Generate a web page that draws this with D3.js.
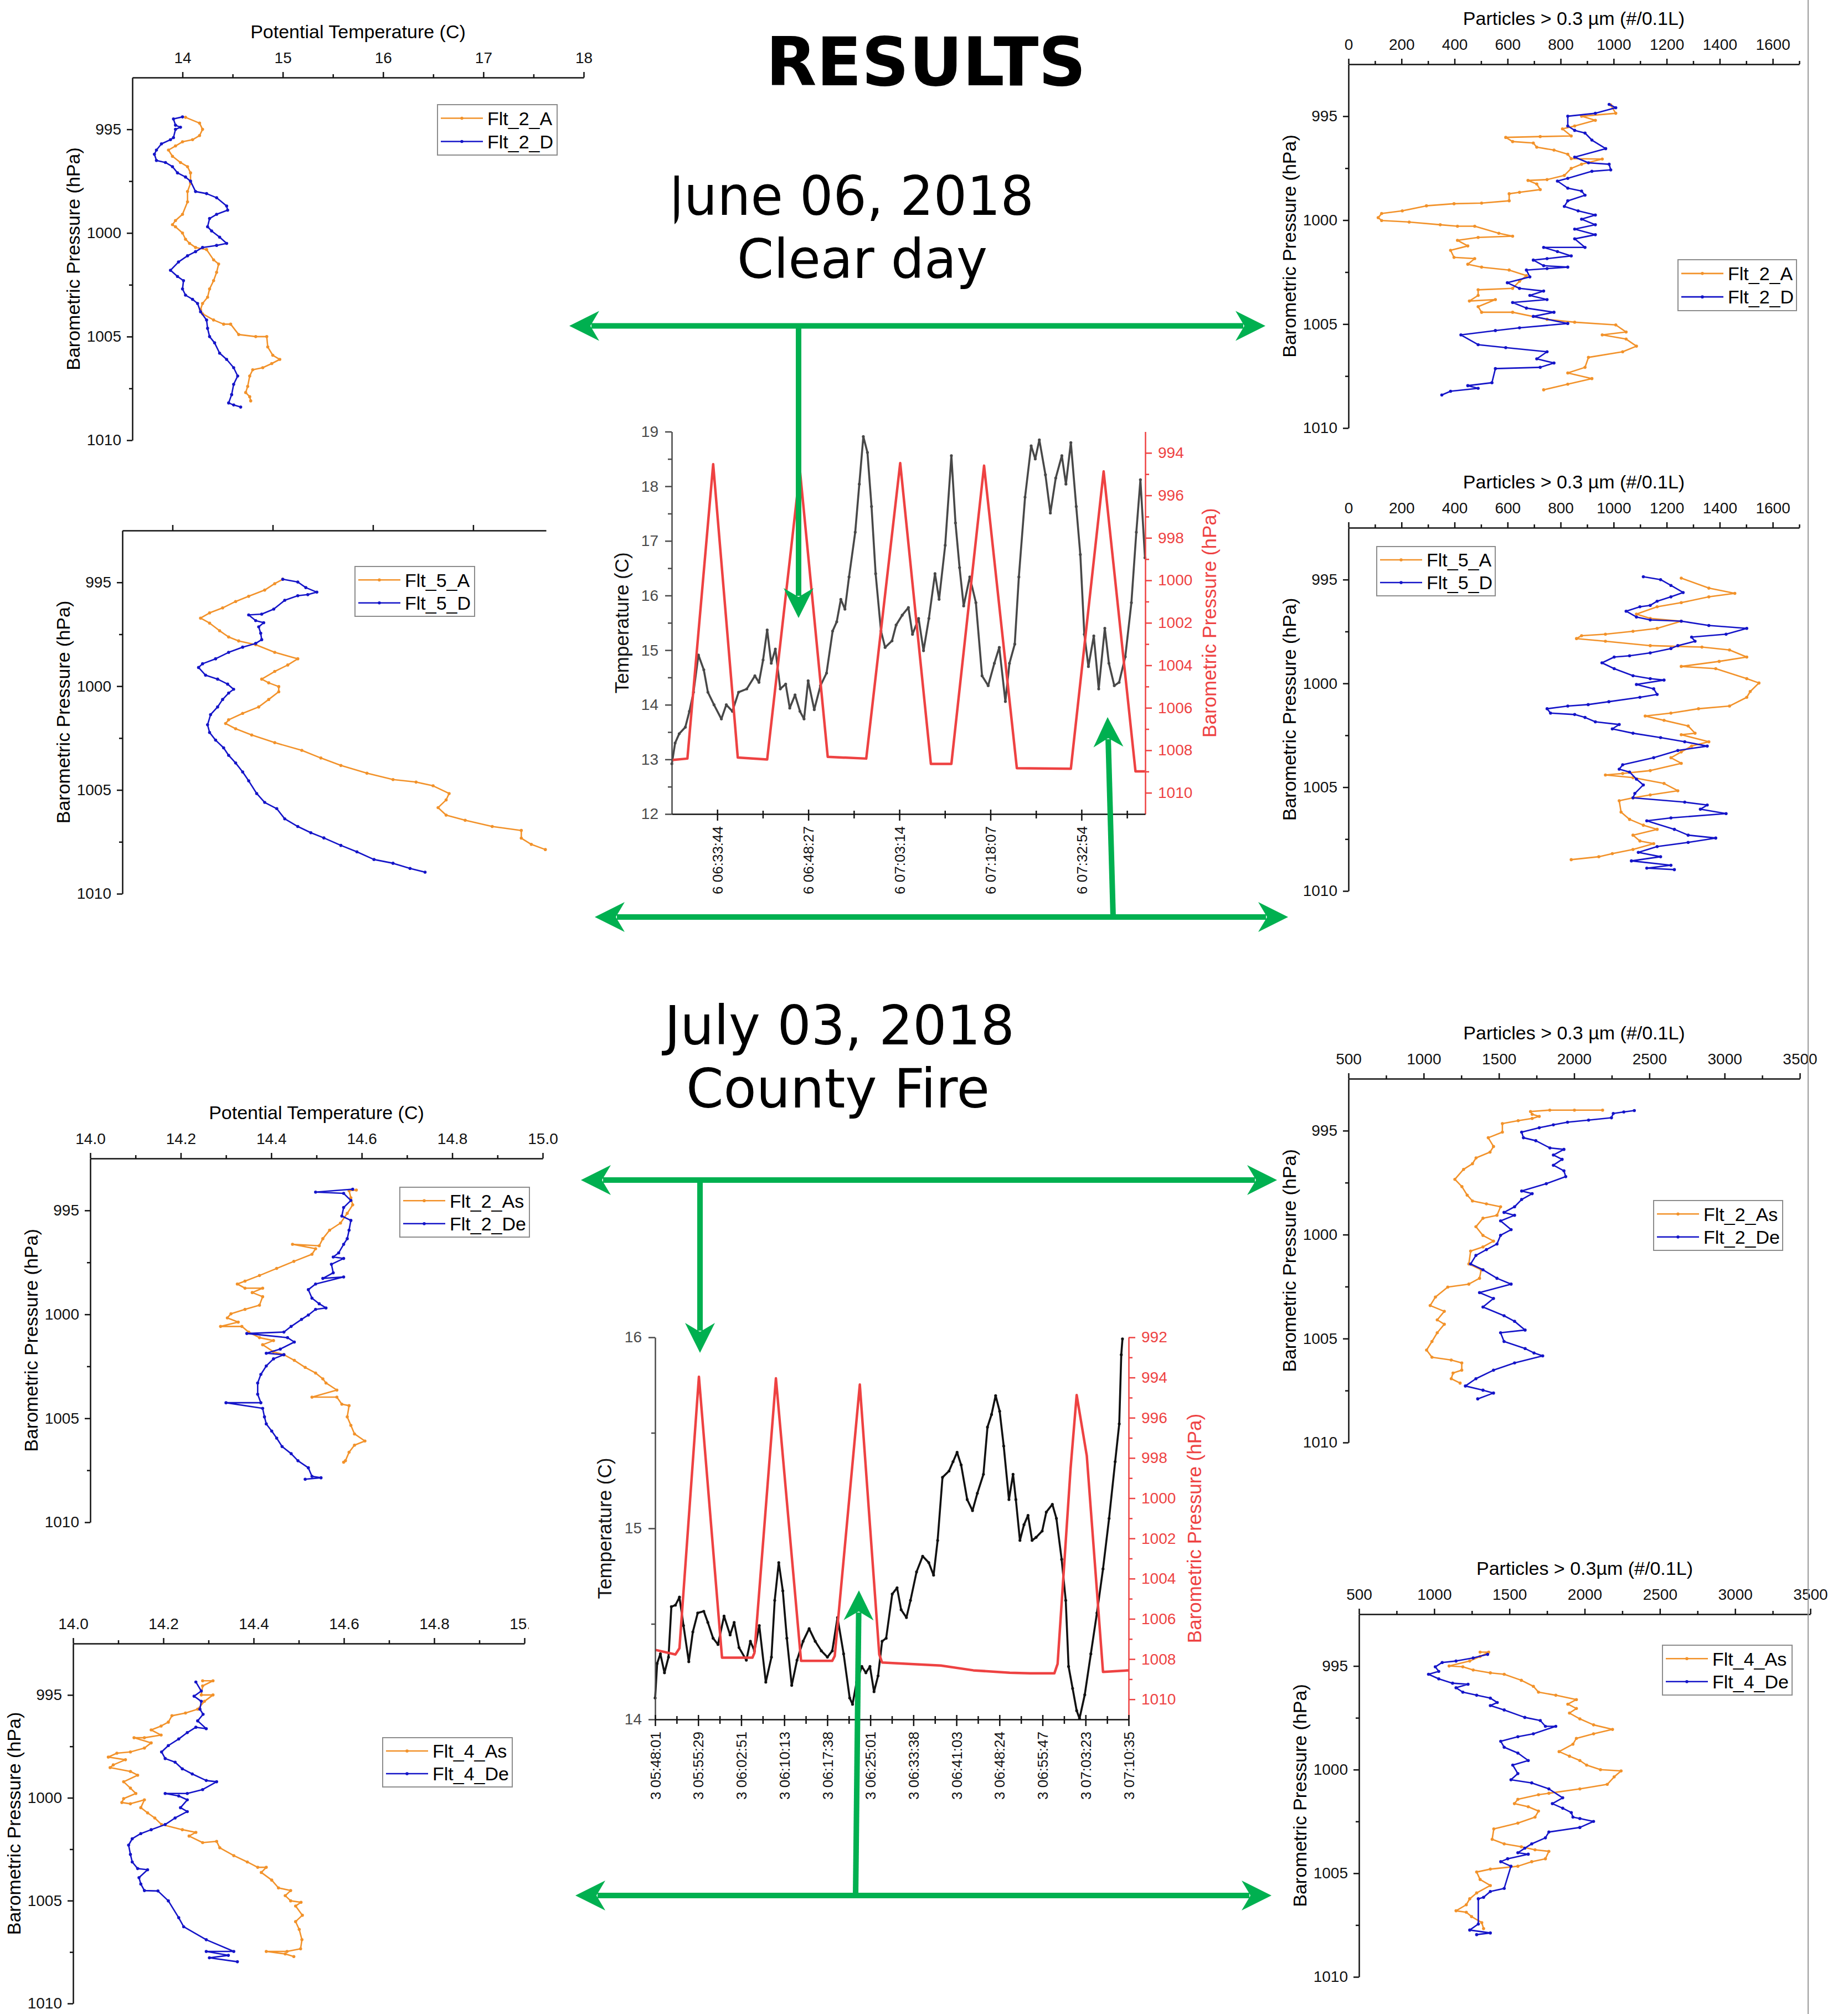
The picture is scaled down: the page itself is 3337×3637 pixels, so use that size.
<!DOCTYPE html>
<html>
<head>
<meta charset="utf-8">
<script src="https://cdn.jsdelivr.net/npm/d3@7"></script>
<style>
  body { margin: 0; background: #fff; }
  text { font-family: "Liberation Sans", Arial, sans-serif; }
  .big { font-family: "DejaVu Sans", sans-serif; }
</style>
</head>
<body>
<svg id="fig" width="3337" height="3637"></svg>
<script>
// ---------- June 06, 2018 (clear day) : profiles [value, pressure hPa] ----------
const flt2A_theta = [[14.03,994.42],[14.17,994.7],[14.2,995.0],[14.17,995.3],[14.1,995.5],[14.0,995.6],[13.93,995.8],[13.86,996.0],[13.9,996.3],[13.98,996.6],[14.05,996.8],[14.08,997.1],[14.08,997.6],[14.05,998.0],[14.05,998.5],[14.0,999.1],[13.93,999.4],[13.9,999.6],[13.93,999.7],[14.0,1000.0],[14.03,1000.3],[14.07,1000.5],[14.13,1000.7],[14.24,1000.8],[14.31,1001.3],[14.36,1001.5],[14.34,1001.9],[14.31,1002.3],[14.27,1002.7],[14.25,1003.1],[14.2,1003.4],[14.18,1003.7],[14.2,1003.9],[14.31,1004.2],[14.41,1004.4],[14.48,1004.4],[14.56,1004.9],[14.73,1005.0],[14.84,1005.0],[14.85,1005.5],[14.9,1005.9],[14.97,1006.1],[14.89,1006.3],[14.8,1006.5],[14.7,1006.6],[14.67,1006.9],[14.65,1007.4],[14.63,1007.7],[14.67,1007.9],[14.68,1008.1]];
const flt2D_theta = [[14.0,994.4],[13.91,994.5],[13.93,994.8],[13.98,994.9],[13.93,995.0],[13.91,995.4],[13.88,995.5],[13.79,995.7],[13.74,996.0],[13.72,996.2],[13.74,996.5],[13.83,996.6],[13.9,996.8],[13.95,997.1],[14.03,997.3],[14.08,997.5],[14.13,998.0],[14.24,998.1],[14.34,998.3],[14.44,998.7],[14.45,998.9],[14.34,999.1],[14.27,999.3],[14.25,999.7],[14.29,999.9],[14.37,1000.2],[14.44,1000.5],[14.34,1000.6],[14.2,1000.7],[14.13,1000.9],[14.05,1001.1],[13.96,1001.4],[13.88,1001.8],[13.95,1002.1],[14.01,1002.3],[14.0,1002.7],[14.03,1003.0],[14.1,1003.2],[14.15,1003.4],[14.18,1003.8],[14.24,1004.2],[14.25,1004.6],[14.27,1005.0],[14.32,1005.3],[14.37,1005.8],[14.44,1006.1],[14.51,1006.5],[14.55,1006.9],[14.51,1007.3],[14.49,1007.8],[14.46,1008.2],[14.51,1008.3],[14.58,1008.4]];
const flt5A_theta = [[15.1,994.85],[15.02,995.06],[14.92,995.37],[14.76,995.67],[14.63,995.92],[14.5,996.23],[14.37,996.47],[14.28,996.72],[14.37,996.96],[14.47,997.33],[14.56,997.63],[14.66,997.82],[14.83,998.0],[15.02,998.37],[15.25,998.68],[15.15,998.98],[15.02,999.29],[14.89,999.66],[14.96,999.84],[15.06,1000.02],[15.06,1000.27],[14.96,1000.64],[14.86,1001.0],[14.7,1001.31],[14.56,1001.62],[14.53,1001.8],[14.63,1002.05],[14.79,1002.35],[15.02,1002.72],[15.29,1003.09],[15.48,1003.46],[15.68,1003.82],[15.94,1004.19],[16.2,1004.5],[16.43,1004.62],[16.6,1004.8],[16.76,1005.17],[16.73,1005.48],[16.65,1005.85],[16.73,1006.21],[16.92,1006.46],[17.19,1006.76],[17.48,1006.95],[17.48,1007.32],[17.58,1007.62],[17.72,1007.87]];
const flt5D_theta = [[15.1,994.85],[15.25,994.98],[15.33,995.25],[15.44,995.47],[15.35,995.59],[15.25,995.64],[15.12,995.86],[15.01,996.29],[14.89,996.53],[14.76,996.57],[14.83,996.84],[14.91,996.94],[14.86,997.14],[14.88,997.45],[14.89,997.76],[14.83,997.94],[14.7,998.12],[14.56,998.37],[14.43,998.68],[14.3,998.92],[14.26,999.1],[14.33,999.47],[14.45,999.66],[14.55,999.9],[14.61,1000.15],[14.56,1000.33],[14.5,1000.64],[14.45,1001.0],[14.38,1001.37],[14.35,1001.86],[14.37,1002.23],[14.43,1002.6],[14.51,1002.97],[14.56,1003.33],[14.63,1003.7],[14.7,1004.13],[14.76,1004.56],[14.84,1005.17],[14.92,1005.6],[15.04,1005.9],[15.12,1006.39],[15.25,1006.76],[15.38,1007.06],[15.51,1007.31],[15.68,1007.67],[15.84,1007.98],[16.01,1008.35],[16.2,1008.53],[16.37,1008.78],[16.52,1008.96]];
const flt2A_pc = [[989,994.46],[1008,994.86],[879,995.0],[931,995.2],[853,995.47],[807,995.61],[840,995.95],[723,995.98],[593,996.02],[619,996.22],[697,996.29],[710,996.49],[775,996.63],[827,996.83],[840,997.04],[957,997.06],[879,997.31],[840,997.51],[814,997.85],[749,998.05],[677,998.09],[710,998.26],[723,998.53],[645,998.66],[606,998.73],[606,999.07],[502,999.18],[398,999.21],[294,999.31],[203,999.55],[125,999.68],[112,999.88],[125,1000.02],[229,1000.09],[346,1000.22],[411,1000.29],[476,1000.29],[567,1000.63],[619,1000.77],[489,1000.83],[411,1000.97],[450,1001.24],[385,1001.45],[398,1001.79],[476,1001.85],[450,1002.12],[502,1002.26],[606,1002.4],[671,1002.67],[645,1002.94],[619,1003.28],[489,1003.35],[489,1003.62],[456,1003.89],[554,1003.82],[489,1004.16],[502,1004.43],[619,1004.43],[749,1004.77],[853,1004.91],[1008,1005.04],[1047,1005.38],[957,1005.52],[1047,1005.72],[1086,1006.06],[1034,1006.33],[905,1006.6],[892,1007.08],[827,1007.35],[918,1007.62],[827,1007.89],[736,1008.16]];
const flt2D_pc = [[983,994.43],[1008,994.59],[931,994.86],[827,995.0],[827,995.47],[853,995.68],[892,995.81],[918,996.15],[970,996.56],[853,996.97],[905,997.24],[983,997.31],[989,997.58],[918,997.65],[827,997.99],[788,998.12],[827,998.46],[879,998.6],[892,998.8],[827,999.07],[814,999.34],[866,999.55],[931,999.75],[879,999.95],[931,1000.22],[853,1000.43],[931,1000.7],[853,1000.9],[892,1001.31],[736,1001.31],[788,1001.51],[840,1001.72],[749,1001.85],[697,1001.92],[736,1002.19],[827,1002.26],[749,1002.33],[671,1002.4],[684,1002.73],[599,1003.01],[645,1003.28],[736,1003.41],[684,1003.62],[749,1003.82],[619,1003.96],[671,1004.23],[775,1004.43],[697,1004.63],[827,1004.97],[645,1005.18],[554,1005.31],[424,1005.52],[489,1005.99],[593,1006.13],[749,1006.33],[710,1006.67],[775,1006.87],[723,1007.08],[554,1007.14],[541,1007.82],[450,1007.96],[489,1008.09],[385,1008.23],[352,1008.41]];
const flt5A_pc = [[1255,994.93],[1359,995.41],[1457,995.66],[1359,995.83],[1255,996.11],[1164,996.31],[1086,996.66],[1138,996.87],[1255,997.0],[1164,997.35],[1073,997.49],[969,997.63],[879,997.7],[860,997.84],[969,997.97],[1138,998.18],[1333,998.25],[1437,998.39],[1502,998.73],[1398,998.94],[1255,999.18],[1385,999.29],[1502,999.77],[1548,999.98],[1515,1000.39],[1502,1000.67],[1437,1001.09],[1320,1001.22],[1216,1001.43],[1119,1001.57],[1190,1001.78],[1281,1002.05],[1307,1002.4],[1255,1002.47],[1359,1002.81],[1294,1003.02],[1255,1003.3],[1216,1003.58],[1255,1003.85],[1138,1004.2],[1034,1004.34],[969,1004.41],[1073,1004.54],[1190,1004.82],[1242,1005.17],[1138,1005.37],[1073,1005.51],[1021,1005.65],[1028,1006.2],[1060,1006.55],[1112,1006.83],[1164,1007.03],[1073,1007.31],[1099,1007.59],[1151,1007.72],[1073,1008.0],[995,1008.2],[944,1008.35],[840,1008.49]];
const flt5D_pc = [[1112,994.86],[1177,995.0],[1216,995.28],[1262,995.62],[1216,995.83],[1164,996.04],[1138,996.24],[1099,996.31],[1047,996.52],[1086,996.8],[1138,996.94],[1255,997.0],[1359,997.21],[1502,997.35],[1424,997.63],[1294,997.77],[1307,997.97],[1242,998.18],[1216,998.32],[1138,998.53],[1060,998.67],[1002,998.73],[956,999.01],[1002,999.29],[1073,999.63],[1138,999.77],[1190,999.84],[1086,1000.05],[1151,1000.26],[1164,1000.53],[1099,1000.67],[982,1000.88],[904,1001.02],[827,1001.09],[749,1001.22],[762,1001.43],[853,1001.5],[892,1001.64],[931,1001.85],[1021,1001.98],[995,1002.19],[1073,1002.4],[1177,1002.61],[1268,1002.81],[1353,1003.02],[1242,1003.23],[1151,1003.58],[1034,1003.92],[1021,1004.13],[1060,1004.27],[1086,1004.61],[1112,1004.89],[1080,1005.3],[1073,1005.51],[1268,1005.72],[1353,1005.86],[1327,1006.06],[1424,1006.27],[1216,1006.48],[1125,1006.62],[1229,1007.03],[1281,1007.31],[1385,1007.45],[1281,1007.66],[1164,1007.86],[1093,1008.14],[1177,1008.35],[1067,1008.55],[1216,1008.76],[1125,1008.9],[1229,1008.97]];

// ---------- June 06 time series: [tick-index position, value] ----------
const junTimes = ["6 06:33:44", "6 06:48:27", "6 07:03:14", "6 07:18:07", "6 07:32:54"];
const junTemp = [[-0.499,12.92],[-0.463,13.3],[-0.418,13.47],[-0.351,13.59],[-0.306,13.88],[-0.261,14.23],[-0.207,14.91],[-0.148,14.64],[-0.103,14.23],[-0.036,14.0],[0.045,13.74],[0.099,14.0],[0.166,13.88],[0.234,14.23],[0.324,14.29],[0.413,14.53],[0.458,14.41],[0.503,14.82],[0.548,15.37],[0.593,14.76],[0.638,15.02],[0.692,14.29],[0.751,14.38],[0.796,13.94],[0.854,14.18],[0.908,13.88],[0.953,13.74],[0.998,14.44],[1.065,13.91],[1.133,14.35],[1.2,14.58],[1.267,15.35],[1.312,15.52],[1.357,15.93],[1.402,15.75],[1.447,16.34],[1.515,17.16],[1.56,18.04],[1.604,18.91],[1.649,18.62],[1.694,17.63],[1.739,16.4],[1.798,15.35],[1.843,15.05],[1.919,15.17],[1.964,15.46],[2.031,15.64],[2.099,15.78],[2.144,15.29],[2.211,15.58],[2.265,14.99],[2.324,15.58],[2.391,16.4],[2.436,15.93],[2.503,16.92],[2.571,18.56],[2.616,17.33],[2.661,16.51],[2.706,15.81],[2.773,16.34],[2.84,15.87],[2.908,14.53],[2.975,14.35],[3.043,14.76],[3.097,15.05],[3.164,14.06],[3.209,14.76],[3.267,15.11],[3.312,16.34],[3.38,17.8],[3.447,18.74],[3.492,18.5],[3.537,18.85],[3.604,18.21],[3.658,17.51],[3.717,18.15],[3.784,18.56],[3.829,18.04],[3.883,18.8],[3.942,17.63],[3.987,16.75],[4.031,15.29],[4.076,14.7],[4.135,15.26],[4.189,14.29],[4.256,15.4],[4.301,14.76],[4.36,14.35],[4.413,14.41],[4.481,14.88],[4.548,15.87],[4.602,17.16],[4.647,18.12],[4.697,16.69]];
const junPres = [[-0.499,1008.46],[-0.328,1008.39],[-0.045,994.53],[0.225,1008.34],[0.548,1008.43],[0.908,994.83],[1.213,1008.31],[1.636,1008.39],[2.009,994.48],[2.346,1008.64],[2.571,1008.64],[2.93,994.6],[3.29,1008.84],[3.883,1008.87],[4.243,994.87],[4.593,1008.99],[4.697,1008.99]];

// ---------- July 03, 2018 (County Fire) ----------
const flt2As_theta = [[14.588,994.02],[14.572,994.05],[14.576,994.39],[14.58,994.73],[14.568,995.14],[14.553,995.61],[14.529,995.95],[14.514,996.36],[14.506,996.7],[14.447,996.63],[14.498,996.84],[14.49,997.11],[14.45,997.45],[14.412,997.79],[14.374,998.13],[14.342,998.4],[14.325,998.54],[14.342,998.74],[14.381,998.74],[14.358,998.95],[14.381,999.15],[14.374,999.56],[14.342,999.76],[14.311,999.97],[14.303,1000.17],[14.327,1000.37],[14.288,1000.58],[14.335,1000.58],[14.35,1000.85],[14.374,1001.12],[14.405,1001.26],[14.381,1001.46],[14.405,1001.8],[14.428,1001.94],[14.451,1002.21],[14.475,1002.55],[14.498,1002.82],[14.514,1003.1],[14.521,1003.3],[14.545,1003.64],[14.49,1003.98],[14.545,1003.98],[14.556,1004.32],[14.572,1004.39],[14.568,1004.93],[14.576,1005.34],[14.584,1005.75],[14.607,1006.09],[14.584,1006.29],[14.572,1006.63],[14.564,1007.04],[14.56,1007.11]];
const flt2De_theta = [[14.58,993.98],[14.498,994.12],[14.56,994.18],[14.576,994.52],[14.56,994.86],[14.556,995.27],[14.576,995.48],[14.572,995.95],[14.568,996.36],[14.56,996.63],[14.549,997.04],[14.537,997.24],[14.56,997.31],[14.533,997.59],[14.537,998.0],[14.514,998.27],[14.56,998.2],[14.498,998.54],[14.482,998.81],[14.49,999.22],[14.506,999.49],[14.521,999.69],[14.498,999.76],[14.482,1000.03],[14.467,1000.24],[14.444,1000.58],[14.428,1000.85],[14.346,1000.92],[14.436,1001.12],[14.451,1001.33],[14.42,1001.67],[14.389,1001.87],[14.428,1001.94],[14.405,1002.14],[14.389,1002.48],[14.377,1002.89],[14.37,1003.3],[14.37,1003.84],[14.377,1004.25],[14.3,1004.25],[14.381,1004.52],[14.385,1004.93],[14.389,1005.27],[14.401,1005.61],[14.412,1005.95],[14.424,1006.36],[14.444,1006.7],[14.459,1007.04],[14.482,1007.38],[14.49,1007.79],[14.51,1007.86],[14.475,1007.93]];
const flt4As_theta = [[14.287,994.31],[14.31,994.31],[14.287,994.56],[14.284,995.0],[14.31,995.0],[14.291,995.31],[14.276,995.69],[14.249,995.88],[14.219,996.01],[14.211,996.32],[14.195,996.51],[14.173,996.7],[14.195,996.95],[14.158,997.08],[14.135,997.08],[14.173,997.33],[14.158,997.58],[14.127,997.77],[14.097,997.83],[14.078,998.02],[14.116,998.15],[14.089,998.4],[14.082,998.53],[14.127,998.72],[14.143,998.9],[14.112,999.22],[14.127,999.53],[14.139,999.79],[14.112,1000.04],[14.108,1000.23],[14.127,1000.29],[14.158,1000.1],[14.15,1000.48],[14.165,1000.73],[14.181,1000.98],[14.196,1001.3],[14.242,1001.55],[14.272,1001.68],[14.257,1001.86],[14.287,1002.18],[14.318,1002.12],[14.325,1002.43],[14.356,1002.81],[14.386,1003.12],[14.409,1003.38],[14.428,1003.38],[14.417,1003.63],[14.44,1004.0],[14.455,1004.38],[14.482,1004.51],[14.47,1004.76],[14.482,1005.01],[14.505,1005.08],[14.493,1005.26],[14.508,1005.71],[14.493,1006.02],[14.501,1006.4],[14.507,1006.9],[14.504,1007.34],[14.474,1007.47],[14.428,1007.47],[14.47,1007.59],[14.489,1007.72]];
const flt4De_theta = [[14.272,994.37],[14.284,994.81],[14.268,995.06],[14.284,995.31],[14.281,995.69],[14.288,995.94],[14.276,996.26],[14.295,996.64],[14.272,996.57],[14.253,996.83],[14.234,997.14],[14.211,997.46],[14.196,997.77],[14.204,998.09],[14.226,998.27],[14.242,998.59],[14.264,998.84],[14.295,999.16],[14.318,999.22],[14.287,999.6],[14.253,999.79],[14.204,999.79],[14.234,999.91],[14.253,1000.1],[14.238,1000.48],[14.253,1000.67],[14.226,1000.98],[14.204,1001.3],[14.173,1001.55],[14.15,1001.74],[14.131,1001.99],[14.123,1002.3],[14.127,1002.75],[14.131,1003.12],[14.143,1003.44],[14.165,1003.5],[14.146,1003.88],[14.15,1004.19],[14.158,1004.51],[14.188,1004.53],[14.211,1005.01],[14.234,1005.83],[14.245,1006.27],[14.295,1006.9],[14.356,1007.47],[14.295,1007.47],[14.344,1007.66],[14.302,1007.78],[14.364,1007.97]];
const flt2As_pc = [[2189,994.01],[2002,994.01],[1838,994.01],[1710,994.08],[1721,994.21],[1768,994.31],[1721,994.41],[1628,994.52],[1523,994.66],[1523,995.07],[1429,995.34],[1464,995.76],[1441,996.03],[1348,996.31],[1324,996.59],[1265,996.86],[1207,997.34],[1254,997.69],[1289,998.1],[1324,998.38],[1417,998.52],[1511,998.66],[1487,999.07],[1394,999.21],[1347,999.62],[1394,1000.04],[1464,1000.31],[1394,1000.59],[1312,1000.79],[1300,1001.41],[1382,1001.69],[1371,1002.1],[1300,1002.38],[1160,1002.52],[1078,1003.0],[1043,1003.41],[1137,1003.69],[1090,1004.1],[1137,1004.31],[1090,1004.72],[1055,1005.14],[1019,1005.55],[1055,1005.9],[1183,1006.03],[1253,1006.17],[1253,1006.52],[1195,1006.66],[1183,1006.93],[1242,1007.14]];
const flt2De_pc = [[2400,994.03],[2330,994.1],[2260,994.17],[2248,994.38],[2096,994.49],[1956,994.59],[1862,994.72],[1768,994.86],[1651,995.07],[1663,995.34],[1745,995.48],[1839,995.83],[1932,995.9],[1862,996.17],[1920,996.38],[1862,996.66],[1932,996.93],[1944,997.21],[1815,997.55],[1651,997.9],[1721,998.03],[1651,998.31],[1604,998.66],[1534,998.93],[1604,999.07],[1511,999.34],[1581,999.76],[1511,1000.03],[1487,1000.45],[1417,1000.72],[1347,1001.0],[1312,1001.41],[1394,1001.69],[1487,1002.1],[1581,1002.38],[1371,1002.79],[1464,1003.07],[1394,1003.48],[1534,1003.9],[1604,1004.17],[1674,1004.59],[1511,1004.72],[1534,1005.14],[1674,1005.48],[1733,1005.69],[1791,1005.83],[1604,1006.17],[1464,1006.52],[1347,1006.93],[1277,1007.28],[1394,1007.48],[1464,1007.62],[1359,1007.9]];
const flt4As_pc = [[1305,994.33],[1362,994.33],[1305,994.54],[1236,994.76],[1099,995.0],[1190,995.04],[1259,995.19],[1373,995.33],[1465,995.4],[1579,995.69],[1659,995.98],[1693,996.26],[1808,996.41],[1945,996.62],[1888,996.84],[1945,997.05],[1899,997.27],[1968,997.55],[2059,997.84],[2185,998.06],[2059,998.27],[1945,998.49],[1922,998.77],[1830,999.13],[1899,999.35],[1968,999.56],[2013,999.78],[2105,1000.0],[2242,1000.06],[2196,1000.35],[2150,1000.71],[1968,1000.93],[1762,1001.14],[1693,1001.21],[1556,1001.43],[1533,1001.64],[1625,1001.79],[1693,1002.0],[1670,1002.29],[1556,1002.58],[1396,1002.86],[1385,1003.36],[1465,1003.58],[1579,1003.72],[1670,1003.87],[1762,1003.94],[1739,1004.3],[1648,1004.44],[1556,1004.66],[1373,1004.8],[1282,1004.94],[1305,1005.3],[1373,1005.59],[1282,1005.95],[1236,1006.23],[1213,1006.52],[1145,1006.81],[1213,1006.88],[1248,1007.09],[1316,1007.38],[1328,1007.67]];
const flt4De_pc = [[1355,994.44],[1259,994.61],[1145,994.76],[1053,994.83],[1007,995.04],[1030,995.26],[962,995.4],[1030,995.62],[1122,995.83],[1225,995.88],[1145,996.05],[1190,996.26],[1282,996.41],[1373,996.55],[1419,996.76],[1373,996.91],[1465,997.12],[1602,997.48],[1705,997.63],[1739,997.91],[1808,997.91],[1659,998.27],[1556,998.41],[1442,998.63],[1465,998.92],[1556,999.2],[1625,999.56],[1522,999.78],[1556,1000.19],[1510,1000.49],[1648,1000.64],[1762,1000.93],[1854,1001.36],[1785,1001.64],[1854,1001.86],[1911,1002.07],[1922,1002.29],[1968,1002.36],[2059,1002.5],[1968,1002.79],[1762,1003.01],[1739,1003.29],[1648,1003.58],[1602,1003.79],[1556,1004.01],[1625,1004.08],[1488,1004.3],[1442,1004.44],[1510,1004.66],[1465,1005.73],[1373,1005.88],[1328,1006.16],[1293,1006.23],[1293,1007.45],[1236,1007.74],[1373,1007.88],[1282,1007.96]];

const julTimes = ["3 05:48:01", "3 05:55:29", "3 06:02:51", "3 06:10:13", "3 06:17:38", "3 06:25:01", "3 06:33:38", "3 06:41:03", "3 06:48:24", "3 06:55:47", "3 07:03:23", "3 07:10:35"];
const julTemp = [[0,14.112],[0.047,14.293],[0.122,14.343],[0.217,14.244],[0.311,14.326],[0.377,14.59],[0.471,14.598],[0.565,14.64],[0.659,14.491],[0.782,14.302],[0.876,14.458],[0.989,14.557],[1.13,14.566],[1.224,14.508],[1.347,14.425],[1.46,14.392],[1.601,14.541],[1.742,14.442],[1.836,14.508],[1.949,14.376],[2.119,14.31],[2.213,14.409],[2.307,14.359],[2.42,14.491],[2.571,14.195],[2.702,14.326],[2.778,14.623],[2.872,14.821],[2.966,14.673],[3.06,14.425],[3.173,14.178],[3.296,14.31],[3.437,14.409],[3.578,14.475],[3.719,14.409],[3.861,14.359],[4.002,14.326],[4.115,14.359],[4.237,14.533],[4.379,14.343],[4.52,14.112],[4.586,14.079],[4.68,14.195],[4.802,14.277],[4.896,14.244],[4.991,14.277],[5.085,14.145],[5.179,14.228],[5.273,14.409],[5.367,14.425],[5.508,14.656],[5.621,14.689],[5.715,14.574],[5.838,14.533],[5.932,14.623],[6.073,14.772],[6.215,14.854],[6.356,14.821],[6.469,14.755],[6.563,14.937],[6.676,15.267],[6.827,15.3],[6.921,15.349],[7.015,15.398],[7.109,15.332],[7.25,15.151],[7.373,15.093],[7.486,15.184],[7.627,15.283],[7.721,15.53],[7.815,15.596],[7.91,15.695],[8.004,15.613],[8.098,15.431],[8.22,15.151],[8.315,15.283],[8.38,15.151],[8.475,14.937],[8.569,15.019],[8.663,15.068],[8.757,14.937],[8.851,14.953],[8.992,14.986],[9.087,15.085],[9.228,15.126],[9.322,15.052],[9.444,14.838],[9.539,14.623],[9.605,14.277],[9.699,14.162],[9.793,14.046],[9.859,14.005],[9.981,14.129],[10.122,14.343],[10.264,14.557],[10.405,14.788],[10.546,15.052],[10.687,15.349],[10.782,15.547],[10.829,15.909],[10.857,15.992]];
const julPres = [[0,1007.54],[0.471,1007.77],[0.565,1007.46],[1.017,993.96],[1.554,1007.93],[2.26,1007.93],[2.307,1007.69],[2.806,994.04],[3.39,1008.09],[4.115,1008.09],[4.172,1007.85],[4.755,994.35],[5.207,1007.77],[5.273,1008.17],[5.885,1008.24],[6.638,1008.32],[7.392,1008.56],[8.239,1008.68],[8.71,1008.71],[9.275,1008.71],[9.35,1008.24],[9.652,998.51],[9.793,994.87],[10.028,997.89],[10.405,1008.64],[10.998,1008.56]];

// ---------- tick values ----------
const pMajor = [995, 1000, 1005, 1010];
const pMinor = [997.5, 1002.5, 1007.5];
const thetaTicksJun = [14, 15, 16, 17, 18];
const thetaMinorJun = [14.5, 15.5, 16.5, 17.5];
const thetaTicksJul = [14.0, 14.2, 14.4, 14.6, 14.8, 15.0];
const thetaMinorJul = [14.1, 14.3, 14.5, 14.7, 14.9];
const pcTicksJun = [0, 200, 400, 600, 800, 1000, 1200, 1400, 1600];
const pcMinorJun = [100, 300, 500, 700, 900, 1100, 1300, 1500, 1700];
const pcTicksJul = [500, 1000, 1500, 2000, 2500, 3000, 3500];
const pcMinorJul = [750, 1250, 1750, 2250, 2750, 3250];

const ORANGE = "#f2922a", BLUE = "#1414c8", RED = "#ee4242", GREEN = "#00b050";

const svg = d3.select("#fig");

function styleAxis(sel, color, fs) {
  sel.attr("font-size", fs).attr("font-family", "Liberation Sans, Arial, sans-serif").attr("color", color);
  sel.selectAll("path, line").attr("stroke-width", 2.5);
  return sel;
}

function drawProfile(o) {
  const g = svg.append("g");
  if (o.clip) {
    svg.append("clipPath").attr("id", "clip-" + o.id).append("rect")
      .attr("x", o.clip[0]).attr("y", o.clip[1]).attr("width", o.clip[2]).attr("height", o.clip[3]);
    g.attr("clip-path", "url(#clip-" + o.id + ")");
  }
  const x = d3.scaleLinear().domain(o.xDomain).range([o.left, o.right]);
  const y = d3.scaleLinear().domain([992.5, 1010]).range([o.top, o.bottom]);

  styleAxis(g.append("g").attr("transform", `translate(0,${o.top})`)
    .call(d3.axisTop(x).tickValues(o.major).tickSize(10).tickSizeOuter(0).tickPadding(16)
      .tickFormat(o.fmt ? o.fmt : () => "")), "#111", 28);
  if (o.minor.length) {
    styleAxis(g.append("g").attr("transform", `translate(0,${o.top})`)
      .call(d3.axisTop(x).tickValues(o.minor).tickSize(6).tickSizeOuter(0).tickFormat(() => "")), "#111", 28)
      .select(".domain").remove();
  }
  styleAxis(g.append("g").attr("transform", `translate(${o.left},0)`)
    .call(d3.axisLeft(y).tickValues(pMajor).tickSize(10).tickSizeOuter(0).tickPadding(10).tickFormat(d3.format("d"))), "#111", 28);
  styleAxis(g.append("g").attr("transform", `translate(${o.left},0)`)
    .call(d3.axisLeft(y).tickValues(pMinor).tickSize(6).tickSizeOuter(0).tickFormat(() => "")), "#111", 28)
    .select(".domain").remove();

  if (o.title) {
    g.append("text").attr("x", (o.left + o.right) / 2).attr("y", o.top - 83).attr("dy", "0.35em")
      .attr("text-anchor", "middle").attr("font-size", 34).text(o.title);
  }
  g.append("text").attr("transform", `translate(${o.left - 107},${(o.top + o.bottom) / 2}) rotate(-90)`)
    .attr("dy", "0.35em").attr("text-anchor", "middle").attr("font-size", 34).text("Barometric Pressure (hPa)");

  const line = d3.line().x(d => x(d[0])).y(d => y(d[1]));
  o.series.forEach(s => {
    g.append("path").datum(s.data).attr("d", line).attr("fill", "none")
      .attr("stroke", s.color).attr("stroke-width", 2.6).attr("stroke-linejoin", "round");
    g.append("g").selectAll("circle").data(s.data).join("circle")
      .attr("cx", d => x(d[0])).attr("cy", d => y(d[1])).attr("r", 2.8).attr("fill", s.color);
  });

  const [lx, ly, lw, lh] = o.legend;
  g.append("rect").attr("x", lx).attr("y", ly).attr("width", lw).attr("height", lh)
    .attr("fill", "#fff").attr("stroke", "#8c8c8c").attr("stroke-width", 2);
  o.series.forEach((s, i) => {
    const yy = ly + lh * (i === 0 ? 0.27 : 0.73);
    g.append("line").attr("x1", lx + 6).attr("x2", lx + 82).attr("y1", yy).attr("y2", yy)
      .attr("stroke", s.color).attr("stroke-width", 2.6);
    g.append("circle").attr("cx", lx + 44).attr("cy", yy).attr("r", 2.8).attr("fill", s.color);
    g.append("text").attr("x", lx + 90).attr("y", yy).attr("dy", "0.36em").attr("font-size", 34).text(s.name);
  });
}

function drawSeries(o) {
  const g = svg.append("g");
  const x = d3.scaleLinear().domain(o.xDomain).range([o.left, o.right]);
  const yT = d3.scaleLinear().domain(o.tDomain).range([o.bottom, o.top]);
  const yP = d3.scaleLinear().domain(o.pDomain).range([o.top, o.bottom]);

  const tl = d3.line().x(d => x(d[0])).y(d => yT(d[1]));
  const pl = d3.line().x(d => x(d[0])).y(d => yP(d[1]));
  g.append("path").datum(o.temp).attr("d", tl).attr("fill", "none")
    .attr("stroke", o.tempColor).attr("stroke-width", 3.6).attr("stroke-linejoin", "round");
  g.append("g").selectAll("circle").data(o.temp).join("circle")
    .attr("cx", d => x(d[0])).attr("cy", d => yT(d[1])).attr("r", 2.6).attr("fill", o.tempColor);
  g.append("path").datum(o.pres).attr("d", pl).attr("fill", "none")
    .attr("stroke", RED).attr("stroke-width", 4.5).attr("stroke-linejoin", "round");

  styleAxis(g.append("g").attr("transform", `translate(${o.left},0)`)
    .call(d3.axisLeft(yT).tickValues(o.tMajor).tickSize(12).tickSizeOuter(0).tickPadding(12).tickFormat(d3.format("d"))), "#4a4a4a", 28);
  styleAxis(g.append("g").attr("transform", `translate(${o.left},0)`)
    .call(d3.axisLeft(yT).tickValues(o.tMinor).tickSize(7).tickSizeOuter(0).tickFormat(() => "")), "#4a4a4a", 28)
    .select(".domain").remove();
  styleAxis(g.append("g").attr("transform", `translate(${o.right},0)`)
    .call(d3.axisRight(yP).tickValues(o.pMajor).tickSize(12).tickSizeOuter(0).tickPadding(11).tickFormat(d3.format("d"))), RED, 28);
  styleAxis(g.append("g").attr("transform", `translate(${o.right},0)`)
    .call(d3.axisRight(yP).tickValues(o.pMinor).tickSize(7).tickSizeOuter(0).tickFormat(() => "")), RED, 28)
    .select(".domain").remove();

  const bx = styleAxis(g.append("g").attr("transform", `translate(0,${o.bottom})`)
    .call(d3.axisBottom(x).tickValues(d3.range(o.times.length)).tickSize(12).tickSizeOuter(0)
      .tickFormat(i => o.times[i])), "#111", 26);
  bx.selectAll(".tick line").attr("y1", -8);
  bx.selectAll(".tick text").attr("transform", "rotate(-90)").attr("text-anchor", "end")
    .attr("x", -22).attr("y", 0).attr("dy", "0.35em");
  const bm = styleAxis(g.append("g").attr("transform", `translate(0,${o.bottom})`)
    .call(d3.axisBottom(x).tickValues(o.xMinor).tickSize(8).tickSizeOuter(0).tickFormat(() => "")), "#111", 26);
  bm.select(".domain").remove();
  bm.selectAll(".tick line").attr("y1", -6);

  const cy = (o.top + o.bottom) / 2;
  g.append("text").attr("transform", `translate(${o.titleL},${cy}) rotate(-90)`).attr("dy", "0.35em")
    .attr("text-anchor", "middle").attr("font-size", 35).attr("fill", "#111").text("Temperature (C)");
  g.append("text").attr("transform", `translate(${o.titleR},${cy}) rotate(-90)`).attr("dy", "0.35em")
    .attr("text-anchor", "middle").attr("font-size", 35).attr("fill", RED).text("Barometric Pressure (hPa)");
}

// ---------- panels ----------
drawProfile({ id: "p1", left: 239, right: 1054, top: 140, bottom: 795, xDomain: [13.5, 18],
  major: thetaTicksJun, minor: thetaMinorJun, fmt: d3.format("d"), title: "Potential Temperature (C)",
  legend: [790, 189, 216, 91],
  series: [{ name: "Flt_2_A", color: ORANGE, data: flt2A_theta }, { name: "Flt_2_D", color: BLUE, data: flt2D_theta }] });
drawProfile({ id: "p2", left: 221, right: 986, top: 958, bottom: 1614, xDomain: [13.5, 17.727],
  major: [14, 15, 16, 17], minor: [], fmt: null, title: null,
  legend: [641, 1023, 216, 90],
  series: [{ name: "Flt_5_A", color: ORANGE, data: flt5A_theta }, { name: "Flt_5_D", color: BLUE, data: flt5D_theta }] });
drawProfile({ id: "p3", left: 2435, right: 3249, top: 116, bottom: 773, xDomain: [0, 1700],
  major: pcTicksJun, minor: pcMinorJun, fmt: d3.format("d"), title: "Particles > 0.3 µm (#/0.1L)",
  legend: [3030, 469, 214, 92],
  series: [{ name: "Flt_2_A", color: ORANGE, data: flt2A_pc }, { name: "Flt_2_D", color: BLUE, data: flt2D_pc }] });
drawProfile({ id: "p4", left: 2435, right: 3249, top: 953, bottom: 1609, xDomain: [0, 1700],
  major: pcTicksJun, minor: pcMinorJun, fmt: d3.format("d"), title: "Particles > 0.3 µm (#/0.1L)",
  legend: [2486, 987, 214, 89],
  series: [{ name: "Flt_5_A", color: ORANGE, data: flt5A_pc }, { name: "Flt_5_D", color: BLUE, data: flt5D_pc }] });
drawProfile({ id: "p6", left: 163, right: 980, top: 2092, bottom: 2749, xDomain: [14, 15],
  major: thetaTicksJul, minor: thetaMinorJul, fmt: d3.format(".1f"), title: "Potential Temperature (C)",
  legend: [722, 2144, 234, 90],
  series: [{ name: "Flt_2_As", color: ORANGE, data: flt2As_theta }, { name: "Flt_2_De", color: BLUE, data: flt2De_theta }] });
drawProfile({ id: "p7", left: 132, right: 947, top: 2968, bottom: 3618, xDomain: [14, 15],
  major: thetaTicksJul, minor: thetaMinorJul, fmt: d3.format(".1f"), title: null, clip: [0, 2880, 955, 757],
  legend: [691, 3138, 234, 89],
  series: [{ name: "Flt_4_As", color: ORANGE, data: flt4As_theta }, { name: "Flt_4_De", color: BLUE, data: flt4De_theta }] });
drawProfile({ id: "p8", left: 2435, right: 3250, top: 1948, bottom: 2605, xDomain: [500, 3500],
  major: pcTicksJul, minor: pcMinorJul, fmt: d3.format("d"), title: "Particles > 0.3 µm (#/0.1L)",
  legend: [2986, 2168, 233, 90],
  series: [{ name: "Flt_2_As", color: ORANGE, data: flt2As_pc }, { name: "Flt_2_De", color: BLUE, data: flt2De_pc }] });
drawProfile({ id: "p9", left: 2454, right: 3269, top: 2915, bottom: 3570, xDomain: [500, 3500],
  major: pcTicksJul, minor: pcMinorJul, fmt: d3.format("d"), title: "Particles > 0.3µm (#/0.1L)",
  legend: [3002, 2971, 234, 90],
  series: [{ name: "Flt_4_As", color: ORANGE, data: flt4As_pc }, { name: "Flt_4_De", color: BLUE, data: flt4De_pc }] });

drawSeries({ left: 1213, right: 2068, top: 779.5, bottom: 1470, xDomain: [-0.5, 4.7], times: junTimes,
  xMinor: [0.5, 1.5, 2.5, 3.5, 4.5], tDomain: [12, 19], tMajor: d3.range(12, 20), tMinor: d3.range(12.5, 19, 1),
  pDomain: [993, 1011], pMajor: d3.range(994, 1011, 2), pMinor: d3.range(995, 1010, 2),
  temp: junTemp, pres: junPres, tempColor: "#484848", titleL: 1123, titleR: 2184 });
drawSeries({ left: 1183, right: 2038, top: 2415, bottom: 3105, xDomain: [0, 11], times: julTimes,
  xMinor: d3.range(0.5, 11, 1), tDomain: [14, 16], tMajor: [14, 15, 16], tMinor: [14.5, 15.5],
  pDomain: [992, 1011], pMajor: d3.range(992, 1011, 2), pMinor: d3.range(993, 1010, 2),
  temp: julTemp, pres: julPres, tempColor: "#111111", titleL: 1092, titleR: 2157 });

// ---------- headings ----------
svg.append("text").attr("class", "big").attr("x", 1672).attr("y", 154).attr("text-anchor", "middle")
  .attr("font-size", 121).attr("font-weight", "bold").attr("textLength", 578).attr("lengthAdjust", "spacingAndGlyphs")
  .text("RESULTS");
svg.append("clipPath").attr("id", "clip-june").append("rect").attr("x", 1218).attr("y", 280).attr("width", 700).attr("height", 150);
svg.append("text").attr("class", "big").attr("clip-path", "url(#clip-june)").attr("x", 1207).attr("y", 388)
  .attr("font-size", 98).attr("textLength", 660).attr("lengthAdjust", "spacingAndGlyphs").text("June 06, 2018");
svg.append("text").attr("class", "big").attr("x", 1557).attr("y", 502).attr("text-anchor", "middle")
  .attr("font-size", 98).attr("textLength", 452).attr("lengthAdjust", "spacingAndGlyphs").text("Clear day");
svg.append("text").attr("class", "big").attr("x", 1516).attr("y", 1886).attr("text-anchor", "middle")
  .attr("font-size", 98).attr("textLength", 632).attr("lengthAdjust", "spacingAndGlyphs").text("July 03, 2018");
svg.append("text").attr("class", "big").attr("x", 1513).attr("y", 2000).attr("text-anchor", "middle")
  .attr("font-size", 98).attr("textLength", 548).attr("lengthAdjust", "spacingAndGlyphs").text("County Fire");

// ---------- green arrows ----------
const arrows = [
  { y: 588.5, x1: 1028, x2: 2285, from: [1442, 588.5], tip: [1442, 1116] },
  { y: 1656, x1: 1074, x2: 2326, from: [2010, 1656], tip: [2000, 1295] },
  { y: 2131, x1: 1049, x2: 2306, from: [1264, 2131], tip: [1264, 2443] },
  { y: 3423, x1: 1039, x2: 2296, from: [1545, 3423], tip: [1551, 2872] }
];
const arrowG = svg.append("g");
function head(tx, ty, ang) {
  const pts = [[0, 0], [-54, -27], [-38, 0], [-54, 27]].map(([px, py]) =>
    [tx + px * Math.cos(ang) - py * Math.sin(ang), ty + px * Math.sin(ang) + py * Math.cos(ang)]);
  arrowG.append("polygon").attr("points", pts.map(p => p.join(",")).join(" ")).attr("fill", GREEN);
}
arrows.forEach(a => {
  arrowG.append("line").attr("x1", a.x1 + 40).attr("x2", a.x2 - 40).attr("y1", a.y).attr("y2", a.y)
    .attr("stroke", GREEN).attr("stroke-width", 10);
  head(a.x1, a.y, Math.PI);
  head(a.x2, a.y, 0);
  const ang = Math.atan2(a.tip[1] - a.from[1], a.tip[0] - a.from[0]);
  arrowG.append("line").attr("x1", a.from[0]).attr("y1", a.from[1])
    .attr("x2", a.tip[0] - 40 * Math.cos(ang)).attr("y2", a.tip[1] - 40 * Math.sin(ang))
    .attr("stroke", GREEN).attr("stroke-width", 10);
  head(a.tip[0], a.tip[1], ang);
});

// right-hand frame line
svg.append("line").attr("x1", 3265).attr("x2", 3265).attr("y1", 0).attr("y2", 3637)
  .attr("stroke", "#9a9a9a").attr("stroke-width", 2);
</script>
</body>
</html>
